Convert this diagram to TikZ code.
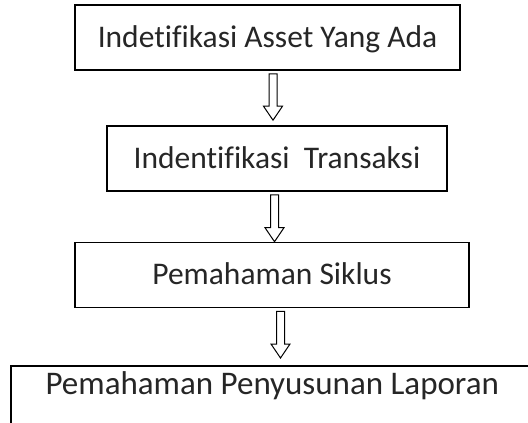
\documentclass[tikz,border=0pt]{standalone}
\usepackage{fontspec}
\setmainfont{Carlito}[Ligatures={NoCommon,NoDiscretionary}, Contextuals=NoAlternate]
\usetikzlibrary{calc}
\tikzset{
  txt/.style={text=black!85, font=\fontsize{31.5}{38}\selectfont},
  box/.style={txt, draw=black, line width=1.6pt, minimum height=65pt, inner sep=0pt,
    text height=25pt, text depth=6pt},
  blk/.style={draw=black, line width=1pt, fill=white, line join=miter},
}
\newcommand\blkarrow[4]{%
  \draw[blk] let \p1=(#1.south), \p2=(#2.north) in
    (#3pt-4pt, \y1-3pt) -- (#3pt-4pt, \y2+#4pt+14pt) -- (#3pt-9.5pt, \y2+#4pt+14pt)
    -- (#3pt, \y2+#4pt) -- (#3pt+9.5pt, \y2+#4pt+14pt) -- (#3pt+4pt, \y2+#4pt+14pt)
    -- (#3pt+4pt, \y1-3pt) -- cycle;}
\begin{document}
\begin{tikzpicture}[x=1pt, y=-1pt]
  \useasboundingbox[fill=white] (0,0) rectangle (528,423);
  \node[box, minimum width=385pt] (b1) at (267.5,37.5) {Indetifikasi Asset Yang Ada};
  \node[box, minimum width=340pt] (b2) at (277,158.5) {Indentifikasi\ \ Transaksi};
  \node[box, minimum width=394pt] (b3) at (272,275) {Pemahaman Siklus};
  \node[txt, font=\fontsize{33}{40}\selectfont, draw=black, line width=1.6pt, inner sep=0pt,
        anchor=north west, minimum width=523pt, text height=29pt, text depth=45pt]
        (b4) at (10,365) {Pemahaman Penyusunan Laporan};
  \blkarrow{b1}{b2}{273}{5}
  \blkarrow{b2}{b3}{274.5}{0}
  \blkarrow{b3}{b4}{280.5}{7}
\end{tikzpicture}
\end{document}
